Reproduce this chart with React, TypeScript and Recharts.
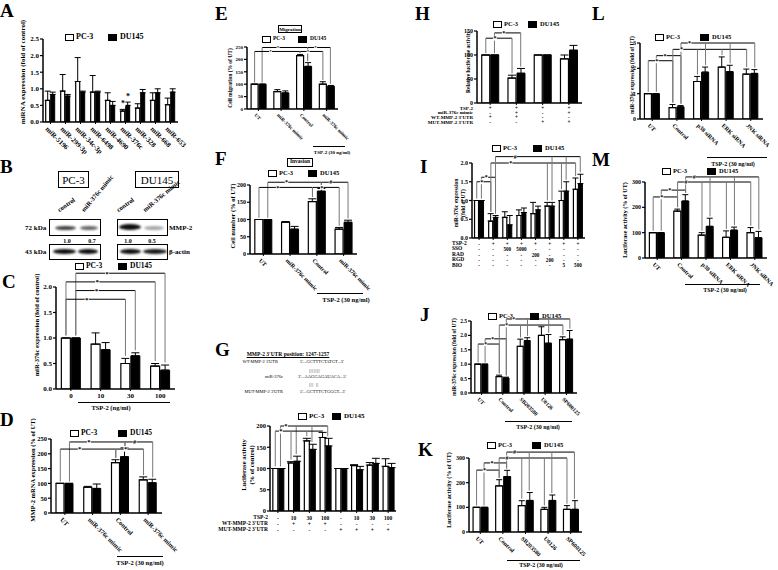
import React from "react";
import { BarChart, Bar, XAxis, YAxis, ErrorBar, ReferenceLine, ReferenceDot } from "recharts";

const FONT = "'Liberation Serif', 'Times New Roman', serif";

// ---- data ----
// A
const aNames = ["miR-5196", "miR-299-3p", "miR-34c-3p", "miR-6498", "miR-4690", "miR-376c", "miR-328", "miR-668", "miR-653"];
const aPC = [0.65, 0.93, 1.22, 0.9, 0.65, 0.33, 0.42, 0.65, 0.52];
const aPCErr = [0.28, 0.5, 0.72, 0.5, 0.23, 0.05, 0.13, 0.23, 0.2];
const aDU = [0.83, 0.78, 0.9, 0.9, 0.5, 0.5, 0.88, 0.88, 0.9];
const aDUErr = [0.07, 0.05, 0.03, 0.03, 0.12, 0.1, 0.1, 0.12, 0.1];
// B (blot densitometry)
const bPC = ["1.0", "0.7"];
const bDU = ["1.0", "0.5"];
// C
const cNames = ["0", "10", "30", "100"];
const cPC = [1.0, 0.88, 0.5, 0.45];
const cPCErr = [0, 0.22, 0.1, 0.05];
const cDU = [1.0, 0.77, 0.65, 0.37];
const cDUErr = [0, 0.14, 0.06, 0.1];
// D
const mimicNames = ["UT", "miR-376c mimic", "Control", "miR-376c mimic"];
const dPC = [100, 87, 170, 112];
const dPCErr = [0, 3, 10, 10];
const dDU = [100, 83, 190, 102];
const dDUErr = [0, 15, 30, 12];
// E
const ePC = [100, 70, 215, 100];
const ePCErr = [0, 8, 5, 10];
const eDU = [100, 65, 172, 92];
const eDUErr = [0, 8, 15, 3];
// F
const fPC = [100, 92, 152, 72];
const fPCErr = [0, 2, 8, 5];
const fDU = [100, 72, 182, 92];
const fDUErr = [0, 8, 8, 6];
// G
const gNames = ["g1", "g2", "g3", "g4", "g5", "g6", "g7", "g8"];
const gPC = [100, 113, 165, 173, 100, 107, 108, 105];
const gPCErr = [0, 3, 6, 12, 0, 2, 6, 18];
const gDU = [100, 117, 145, 153, 100, 97, 112, 102];
const gDUErr = [0, 12, 12, 18, 0, 8, 12, 10];
const gTSP = ["-", "10", "30", "100", "-", "10", "30", "100"];
const gWT = ["-", "+", "+", "+", "-", "-", "-", "-"];
const gMUT = ["-", "-", "-", "-", "+", "+", "+", "+"];
// H
const hNames = ["h1", "h2", "h3", "h4"];
const hPC = [100, 52, 100, 92];
const hPCErr = [0, 6, 0, 8];
const hDU = [100, 62, 100, 110];
const hDUErr = [0, 10, 0, 10];
const hTSP = ["+", "+", "+", "+"];
const hMimic = ["-", "+", "-", "+"];
const hWT = ["+", "+", "-", "-"];
const hMUT = ["-", "-", "+", "+"];
// I
const iNames = ["i1", "i2", "i3", "i4", "i5", "i6", "i7", "i8"];
const iPC = [1.0, 0.45, 0.55, 0.6, 0.65, 0.85, 1.0, 1.3];
const iPCErr = [0, 0.2, 0.15, 0.15, 0.3, 0.1, 0.25, 0.3];
const iDU = [1.0, 0.55, 0.35, 0.68, 0.75, 0.85, 1.25, 1.45];
const iDUErr = [0, 0.05, 0.25, 0.12, 0.1, 0.1, 0.25, 0.25];
const iTSP = ["-", "+", "+", "+", "+", "+", "+", "+"];
const iSSO = ["-", "-", "500", "5000", "-", "-", "-", "-"];
const iRAD = ["-", "-", "-", "-", "200", "-", "-", "-"];
const iRGD = ["-", "-", "-", "-", "-", "200", "-", "-"];
const iBIO = ["-", "-", "-", "-", "-", "-", "5", "500"];
// J
const inhNames = ["UT", "Control", "SB203580", "U0126", "SP600125"];
const jPC = [1.0, 0.57, 1.62, 2.0, 1.85];
const jPCErr = [0, 0.05, 0.25, 0.3, 0.1];
const jDU = [1.0, 0.52, 1.82, 1.73, 1.87];
const jDUErr = [0, 0.03, 0.1, 0.3, 0.3];
// K
const kPC = [100, 187, 107, 92, 92];
const kPCErr = [0, 25, 20, 8, 15];
const kDU = [100, 225, 128, 128, 92];
const kDUErr = [0, 25, 32, 22, 35];
// L
const siNames = ["UT", "Control", "p38 siRNA", "ERK siRNA", "JNK siRNA"];
const lPC = [1.0, 0.45, 1.48, 2.05, 1.77];
const lPCErr = [0, 0.12, 0.2, 0.4, 0.2];
const lDU = [1.0, 0.48, 1.85, 1.87, 1.8];
const lDUErr = [0, 0.05, 0.2, 0.25, 0.15];
// M
const mPC = [100, 185, 90, 82, 100];
const mPCErr = [0, 8, 10, 25, 20];
const mDU = [100, 225, 125, 110, 80];
const mDUErr = [0, 25, 32, 12, 25];

// significance brackets: bar ref = group index (+0.5 for DU145)
const cBr = [
  { a: 0.5, b: [3.5], y: 2.27, m: "*" },
  { a: 0, b: [3], y: 2.1, m: "*" },
  { a: 0.5, b: [2.5], y: 1.93, m: "*" },
  { a: 0, b: [2], y: 1.76, m: "*" },
];
const dBr = [
  { a: 0.5, b: [2.5], y: 240, m: "*" },
  { a: 0, b: [2], y: 216, m: "*" },
  { a: 2.5, b: [3.5], y: 240, m: "#" },
  { a: 2, b: [3], y: 216, m: "*" },
];
const eBr = [
  { a: 0.5, b: [2.5], y: 248, m: "*" },
  { a: 0, b: [2], y: 232, m: "*" },
  { a: 2.5, b: [3.5], y: 248, m: "*" },
  { a: 2, b: [3], y: 232, m: "*" },
];
const fBr = [
  { a: 0.5, b: [2.5], y: 208, m: "*" },
  { a: 0, b: [2], y: 193, m: "*" },
  { a: 2.5, b: [3.5], y: 208, m: "#" },
  { a: 2, b: [3], y: 193, m: "*" },
];
const gBr = [
  { a: 0.5, b: [1.5, 2.5, 3.5], y: 200, m: "*" },
  { a: 0, b: [1, 2, 3], y: 188, m: "*" },
];
const hBr = [
  { a: 0.5, b: [1.5], y: 146, m: "*" },
  { a: 0, b: [1], y: 135, m: "*" },
];
const iBr = [
  { a: 0, b: [1], y: 1.5, m: "*" },
  { a: 0.5, b: [1.5], y: 1.62, m: "*" },
  { a: 1, b: [5, 6, 7], y: 2.0, m: "*" },
  { a: 1.5, b: [5.5, 6.5, 7.5], y: 2.17, m: "#" },
];
const jBr = [
  { a: 0, b: [1], y: 1.7, m: "*" },
  { a: 0.5, b: [1.5], y: 1.88, m: "*" },
  { a: 1, b: [2, 3, 4], y: 2.36, m: "*" },
  { a: 1.5, b: [2.5, 3.5, 4.5], y: 2.57, m: "*" },
];
const kBr = [
  { a: 0, b: [1], y: 251, m: "*" },
  { a: 0.5, b: [1.5], y: 280, m: "*" },
  { a: 1, b: [2, 3, 4], y: 300, m: "#" },
  { a: 1.5, b: [2.5, 3.5, 4.5], y: 324, m: "#" },
];
const lBr = [
  { a: 0, b: [1], y: 2.3, m: "*" },
  { a: 0.5, b: [1.5], y: 2.5, m: "*" },
  { a: 1, b: [2, 3, 4], y: 2.75, m: "*" },
  { a: 1.5, b: [2.5, 3.5, 4.5], y: 3.0, m: "*" },
];
const mBr = [
  { a: 0, b: [1], y: 241, m: "*" },
  { a: 0.5, b: [1.5], y: 268, m: "*" },
  { a: 1, b: [2, 3, 4], y: 300, m: "#" },
  { a: 1.5, b: [2.5, 3.5, 4.5], y: 320, m: "#" },
];

const rows = (names: string[], pc: number[], pcErr: number[], du: number[], duErr: number[]) =>
  names.map((name, i) => ({ name, pc: pc[i], du: du[i], pcE: [0, pcErr[i]], duE: [0, duErr[i]] }));

const barX = (r: number) => Math.floor(r) + (r % 1 ? 0.665 : 0.335);
const barTop = (data: any[], r: number) => {
  const d = data[Math.floor(r)];
  return r % 1 ? d.du + d.duE[1] : d.pc + d.pcE[1];
};

function Mark({ cx, cy, m, fs }: any) {
  return (
    <g>
      <rect x={cx - fs * 0.3} y={cy - fs * 0.4} width={fs * 0.6} height={fs * 0.8} fill="#fff" />
      <text x={cx} y={cy + fs * 0.35} textAnchor="middle" fontSize={fs} fontWeight="bold" fontFamily={FONT}>
        {m}
      </text>
    </g>
  );
}

function Panel(p: any) {
  const { x0, x1, yTop, yBot, data, domain, ticks, fmt, kind, rowsTxt = [], rowOff = 7, rowStep = 6, fs = 7, brackets = [], stars = [], cap = 4 } = p;
  const YW = 30, MT = 30, MR = 6, XH = 50;
  const n = data.length;
  // the hidden index axis runs over [0, n-1] across the plot width
  const sx = (v: number) => (v * (n - 1)) / n;
  const pad = (domain[1] - domain[0]) * 0.025;
  const tick = (t: any) => {
    const idx = t.index ?? t.payload?.index ?? 0;
    if (kind === "angle")
      return (
        <text x={t.x - 2} y={t.y + 2} dy={fs * 0.7} transform={`rotate(45 ${t.x - 2} ${t.y + 2})`} textAnchor="start" fontSize={fs} fontWeight="bold" fontFamily={FONT} fill="#000">
          {t.payload.value}
        </text>
      );
    if (kind === "plain")
      return (
        <text x={t.x} y={t.y + fs} textAnchor="middle" fontSize={fs} fontWeight="bold" fontFamily={FONT} fill="#000">
          {t.payload.value}
        </text>
      );
    return (
      <g>
        {rowsTxt.map((r: string[], k: number) => (
          <text key={k} x={t.x} y={t.y + rowOff + k * rowStep} textAnchor="middle" fontSize={fs * 0.85} fontWeight="bold" fontFamily={FONT} fill="#000">
            {r[idx]}
          </text>
        ))}
      </g>
    );
  };
  const extra: any[] = [];
  brackets.forEach((br: any, k: number) => {
    const xa = barX(br.a);
    const xs = br.b.map(barX);
    const all = [xa, ...xs];
    extra.push(
      <ReferenceLine key={`h${k}`} xAxisId="n" segment={[{ x: sx(Math.min(...all)), y: br.y }, { x: sx(Math.max(...all)), y: br.y }]} stroke="#000" strokeWidth={1} ifOverflow="visible" />
    );
    [br.a, ...br.b].forEach((r: number, j: number) =>
      extra.push(
        <ReferenceLine key={`v${k}-${j}`} xAxisId="n" segment={[{ x: sx(barX(r)), y: br.y }, { x: sx(barX(r)), y: barTop(data, r) + pad }]} stroke="#777" strokeWidth={1} ifOverflow="visible" />
      )
    );
    extra.push(
      <ReferenceDot key={`m${k}`} xAxisId="n" x={sx(xa + (xs[0] - xa) * 0.35)} y={br.y} r={0} ifOverflow="visible" shape={(q: any) => <Mark cx={q.cx} cy={q.cy} m={br.m} fs={fs} />} />
    );
  });
  stars.forEach((r: number, k: number) =>
    extra.push(
      <ReferenceDot key={`s${k}`} xAxisId="n" x={sx(barX(r))} y={barTop(data, r) + pad * 3} r={0} ifOverflow="visible" shape={(q: any) => <Mark cx={q.cx} cy={q.cy} m="*" fs={fs + 1} />} />
    )
  );
  return (
    <div style={{ position: "absolute", left: x0 - YW, top: yTop - MT }}>
      <BarChart width={x1 - x0 + YW + MR} height={yBot - yTop + MT + XH} data={data} margin={{ top: MT, right: MR, left: 0, bottom: 0 }} barCategoryGap="18%" barGap={1}>
        <XAxis dataKey="name" height={XH} interval={0} tick={tick} tickSize={2} tickMargin={0} tickLine={{ stroke: "#000" }} axisLine={{ stroke: "#000", strokeWidth: 1.5 }} />
        <XAxis xAxisId="n" type="number" domain={[0, n - 1]} allowDataOverflow hide />
        <YAxis
          width={YW}
          domain={domain}
          ticks={ticks}
          allowDataOverflow
          tickFormatter={fmt}
          tickSize={3}
          tickMargin={1}
          tick={{ fontSize: fs, fontWeight: "bold", fill: "#000", fontFamily: FONT }}
          tickLine={{ stroke: "#000", strokeWidth: 1.2 }}
          axisLine={{ stroke: "#000", strokeWidth: 1.5 }}
        />
        <Bar dataKey="pc" fill="#fff" stroke="#000" strokeWidth={1.2} isAnimationActive={false}>
          <ErrorBar dataKey="pcE" width={cap} stroke="#000" strokeWidth={1} direction="y" />
        </Bar>
        <Bar dataKey="du" fill="#000" stroke="#000" strokeWidth={1} isAnimationActive={false}>
          <ErrorBar dataKey="duE" width={cap} stroke="#000" strokeWidth={1} direction="y" />
        </Bar>
        {extra}
      </BarChart>
    </div>
  );
}

function Txt({ x, y, children, fs = 7, align = "left", bold = true, style = {} }: any) {
  const s: any = { position: "absolute", top: y - fs / 2, fontSize: fs, lineHeight: `${fs}px`, fontWeight: bold ? "bold" : "normal", whiteSpace: "nowrap", ...style };
  if (align === "left") s.left = x;
  else if (align === "right") s.right = 778 - x;
  else {
    s.left = x;
    s.transform = "translateX(-50%)";
  }
  return <div style={s}>{children}</div>;
}

function VLabel({ x, y, lines, fs = 7 }: any) {
  return (
    <div style={{ position: "absolute", left: x, top: y, transform: "translate(-50%,-50%) rotate(-90deg)", fontSize: fs, lineHeight: `${fs + 1.5}px`, fontWeight: "bold", whiteSpace: "nowrap", textAlign: "center" }}>
      {lines.map((l: string, i: number) => (
        <div key={i}>{l}</div>
      ))}
    </div>
  );
}

function Key({ x, x2, y, fs = 8 }: any) {
  return (
    <>
      <div style={{ position: "absolute", left: x, top: y - 3, width: 7, height: 5, border: "1px solid #000", background: "#fff" }} />
      <Txt x={x + 11} y={y} fs={fs}>PC-3</Txt>
      <div style={{ position: "absolute", left: x2, top: y - 3, width: 9, height: 7, background: "#000" }} />
      <Txt x={x2 + 12} y={y} fs={fs}>DU145</Txt>
    </>
  );
}

function Letter({ x, y, c }: any) {
  return <div style={{ position: "absolute", left: x, top: y - 3.5, fontSize: 19, lineHeight: "19px", fontWeight: "bold" }}>{c}</div>;
}

function Under({ xa, xb, y, tx, ty, fs = 7, text = "TSP-2 (30 ng/ml)" }: any) {
  return (
    <>
      <div style={{ position: "absolute", left: xa, top: y, width: xb - xa, height: 1, background: "#000" }} />
      <Txt x={tx} y={ty} fs={fs} align="center">{text}</Txt>
    </>
  );
}

function Band({ x, y, w, h, a }: any) {
  return <div style={{ position: "absolute", left: x, top: y, width: w, height: h, background: `rgba(0,0,0,${a})`, borderRadius: "50%", filter: "blur(0.8px)" }} />;
}

function Box({ x, y, w, h, bg = "#fff" }: any) {
  return <div style={{ position: "absolute", left: x, top: y, width: w, height: h, border: "1px solid #000", background: bg, boxSizing: "border-box" }} />;
}

function Lane({ x, y, text, deg = -40 }: any) {
  return (
    <div style={{ position: "absolute", left: x, top: y, fontSize: 6.5, lineHeight: "7px", fontWeight: "bold", whiteSpace: "nowrap", transform: `rotate(${deg}deg)`, transformOrigin: "left bottom" }}>{text}</div>
  );
}

const f1 = (v: number) => v.toFixed(1);

export default function App() {
  return (
    <div style={{ position: "absolute", left: 0, top: 0, width: 778, height: 570, background: "#fff", fontFamily: FONT, color: "#000", overflow: "hidden" }}>
      <style>{`.recharts-surface{overflow:visible}`}</style>

      {/* A */}
      <Letter x={0} y={4} c="A" />
      <Key x={65} x2={108} y={37} fs={8} />
      <VLabel x={23} y={72} lines={["miRNA expression (fold of control)"]} fs={7} />
      <Panel x0={43} x1={178} yTop={39} yBot={122} data={rows(aNames, aPC, aPCErr, aDU, aDUErr)} domain={[0, 2.5]} ticks={[0, 0.5, 1, 1.5, 2, 2.5]} fmt={f1} kind="angle" fs={7} cap={3} stars={[5, 5.5]} />

      {/* B */}
      <Letter x={0} y={160} c="B" />
      <Box x={58} y={171} w={31} h={17} />
      <Txt x={73.5} y={180} fs={11} align="center" bold={false}>PC-3</Txt>
      <Box x={135} y={171} w={44} h={17} />
      <Txt x={157} y={180} fs={11} align="center" bold={false}>DU145</Txt>
      <Lane x={60} y={206} text="control" deg={-35} />
      <Lane x={85} y={206} text="miR-376c mimic" deg={-50} />
      <Lane x={119} y={206} text="control" deg={-35} />
      <Lane x={146} y={206} text="miR-376c mimic" deg={-40} />
      <Txt x={25} y={228} fs={7}>72 kDa</Txt>
      <Txt x={25} y={252} fs={7}>43 kDa</Txt>
      <Box x={49} y={219} w={52} h={17} />
      <Box x={117} y={219} w={51} h={17} />
      <Box x={49} y={244} w={52} h={16} />
      <Box x={117} y={244} w={51} h={16} />
      <Band x={55} y={226} w={21} h={4} a={0.75} />
      <Band x={80} y={226} w={18} h={4} a={0.6} />
      <Band x={119} y={224} w={22} h={6} a={0.95} />
      <Band x={144} y={226} w={20} h={4} a={0.35} />
      <Band x={53} y={249} w={23} h={5} a={0.95} />
      <Band x={78} y={249} w={20} h={5} a={0.95} />
      <Band x={120} y={249} w={21} h={5} a={0.95} />
      <Band x={143} y={249} w={24} h={5} a={0.9} />
      <Txt x={67} y={241} fs={6} align="center">{bPC[0]}</Txt>
      <Txt x={92} y={241} fs={6} align="center">{bPC[1]}</Txt>
      <Txt x={128} y={241} fs={6} align="center">{bDU[0]}</Txt>
      <Txt x={152} y={241} fs={6} align="center">{bDU[1]}</Txt>
      <Txt x={169} y={228} fs={7}>MMP-2</Txt>
      <Txt x={169} y={252} fs={7}>β-actin</Txt>

      {/* C */}
      <Letter x={2} y={275} c="C" />
      <Key x={75} x2={118} y={266} fs={7.5} />
      <VLabel x={37} y={325} lines={["miR-376c expression (fold of control)"]} fs={6.5} />
      <Panel x0={56} x1={175} yTop={287} yBot={389} data={rows(cNames, cPC, cPCErr, cDU, cDUErr)} domain={[0, 2]} ticks={[0, 0.5, 1, 1.5, 2]} fmt={f1} kind="plain" fs={7} brackets={cBr} />
      <Under xa={78} xb={170} y={402} tx={111} ty={408} fs={6.5} text="TSP-2 (ng/ml)" />

      {/* D */}
      <Letter x={0} y={413} c="D" />
      <Key x={70} x2={118} y={433} fs={7.5} />
      <VLabel x={33} y={470} lines={["MMP-2 mRNA expression (% of UT)"]} fs={6.5} />
      <Panel x0={51} x1={162} yTop={439} yBot={513} data={rows(mimicNames, dPC, dPCErr, dDU, dDUErr)} domain={[0, 250]} ticks={[0, 50, 100, 150, 200, 250]} kind="angle" fs={6.5} brackets={dBr} />
      <Under xa={117} xb={163} y={556} tx={140} ty={563} fs={6.5} />

      {/* E */}
      <Letter x={215} y={7} c="E" />
      <div style={{ position: "absolute", left: 278, top: 25, width: 24, height: 8, border: "1px solid #000", boxSizing: "border-box" }} />
      <Txt x={290} y={29} fs={5} align="center">Migration</Txt>
      <Key x={262} x2={298} y={39} fs={5.5} />
      <VLabel x={230} y={78} lines={["Cell migration (% of UT)"]} fs={5.5} />
      <Panel x0={247} x1={338} yTop={47} yBot={109} data={rows(mimicNames, ePC, ePCErr, eDU, eDUErr)} domain={[0, 250]} ticks={[0, 50, 100, 150, 200, 250]} kind="angle" fs={5} cap={3} brackets={eBr} />
      <Under xa={313} xb={345} y={146} tx={332} ty={152} fs={5} />

      {/* F */}
      <Letter x={215} y={152} c="F" />
      <div style={{ position: "absolute", left: 287, top: 158, width: 26, height: 9, border: "1px solid #000", boxSizing: "border-box" }} />
      <Txt x={300} y={162} fs={5.5} align="center">Invasion</Txt>
      <Key x={268} x2={308} y={173} fs={6.5} />
      <VLabel x={233} y={216} lines={["Cell number (% of UT)"]} fs={6.5} />
      <Panel x0={250} x1={357} yTop={185} yBot={254} data={rows(mimicNames, fPC, fPCErr, fDU, fDUErr)} domain={[0, 200]} ticks={[0, 50, 100, 150, 200]} kind="angle" fs={6} brackets={fBr} />
      <Under xa={317} xb={363} y={293} tx={346} ty={300} fs={6.5} />

      {/* G */}
      <Letter x={215} y={343} c="G" />
      <Txt x={288} y={355} fs={5.5} align="center" style={{ textDecoration: "underline" }}>MMP-2 3'UTR position: 1247-1257</Txt>
      <Txt x={278} y={362} fs={4.5} align="right" bold={false}>WT-MMP-2 3'UTR</Txt>
      <Txt x={300} y={362} fs={4.5} bold={false}>5'...GCTTTCTATGT...3'</Txt>
      <Txt x={309} y={370} fs={5} bold={false} style={{ letterSpacing: 0.6 }}>|||||||</Txt>
      <Txt x={283} y={377} fs={4.5} align="right" bold={false}>miR-376c</Txt>
      <Txt x={298} y={377} fs={4.5} bold={false}>3'...AAGGAGAUACA...5'</Txt>
      <Txt x={309} y={384} fs={5} bold={false} style={{ letterSpacing: 0.6 }}>|||  ||</Txt>
      <Txt x={283} y={392} fs={4.5} align="right" bold={false}>MUT-MMP-2 3'UTR</Txt>
      <Txt x={300} y={392} fs={4.5} bold={false}>5'...GCTTTCTGGGT...3'</Txt>
      <Key x={298} x2={332} y={416} fs={7} />
      <VLabel x={248} y={465} lines={["Luciferase activity", "(% of control)"]} fs={6.5} />
      <Panel x0={270} x1={396} yTop={426} yBot={511} data={rows(gNames, gPC, gPCErr, gDU, gDUErr)} domain={[0, 200]} ticks={[0, 50, 100, 150, 200]} kind="rows" rowsTxt={[gTSP, gWT, gMUT]} rowOff={7} rowStep={6} fs={6.5} brackets={gBr} />
      <Txt x={268} y={518} fs={5.5} align="right">TSP-2</Txt>
      <Txt x={268} y={524} fs={5.5} align="right">WT-MMP-2 3'UTR</Txt>
      <Txt x={268} y={530} fs={5.5} align="right">MUT-MMP-2 3'UTR</Txt>

      {/* H */}
      <Letter x={415} y={7} c="H" />
      <Key x={493} x2={528} y={24} fs={6.5} />
      <VLabel x={468} y={62} lines={["Relative luciferase activity"]} fs={5.5} />
      <Panel x0={477} x1={582} yTop={31} yBot={103} data={rows(hNames, hPC, hPCErr, hDU, hDUErr)} domain={[0, 150]} ticks={[0, 50, 100, 150]} kind="rows" rowsTxt={[hTSP, hMimic, hWT, hMUT]} rowOff={5} rowStep={4.7} fs={6} brackets={hBr} />
      <Txt x={473} y={108} fs={5} align="right">TSP-2</Txt>
      <Txt x={473} y={112.5} fs={5} align="right">miR-376c mimic</Txt>
      <Txt x={473} y={117} fs={5} align="right">WT-MMP-2 3'UTR</Txt>
      <Txt x={473} y={122} fs={5} align="right">MUT-MMP-2 3'UTR</Txt>

      {/* I */}
      <Letter x={420} y={160} c="I" />
      <Key x={492} x2={533} y={148} fs={6.5} />
      <VLabel x={460} y={203} lines={["miR-376c expression", "(fold of UT)"]} fs={5.5} />
      <Panel x0={472} x1={585} yTop={163} yBot={238} data={rows(iNames, iPC, iPCErr, iDU, iDUErr)} domain={[0, 2]} ticks={[0, 0.5, 1, 1.5, 2]} fmt={f1} kind="rows" rowsTxt={[iTSP, iSSO, iRAD, iRGD, iBIO]} rowOff={6} rowStep={5.3} fs={6} cap={3} brackets={iBr} />
      <Txt x={452} y={244} fs={5.5}>TSP-2</Txt>
      <Txt x={452} y={249} fs={5.5}>SSO</Txt>
      <Txt x={452} y={254.5} fs={5.5}>RAD</Txt>
      <Txt x={452} y={260} fs={5.5}>RGD</Txt>
      <Txt x={452} y={265.5} fs={5.5}>BIO</Txt>

      {/* J */}
      <Letter x={420} y={308} c="J" />
      <Key x={488} x2={530} y={316} fs={6.5} />
      <VLabel x={454} y={357} lines={["miR-376c expression (fold of UT)"]} fs={5.5} />
      <Panel x0={471} x1={577} yTop={321} yBot={393} data={rows(inhNames, jPC, jPCErr, jDU, jDUErr)} domain={[0, 2.5]} ticks={[0, 0.5, 1, 1.5, 2, 2.5]} fmt={f1} kind="angle" fs={5.5} cap={3} brackets={jBr} />
      <Under xa={505} xb={572} y={421} tx={538} ty={427} fs={6} />

      {/* K */}
      <Letter x={418} y={443} c="K" />
      <Key x={487} x2={532} y={445} fs={6.5} />
      <VLabel x={450} y={490} lines={["Luciferase activity (% of UT)"]} fs={6} />
      <Panel x0={469} x1={582} yTop={458} yBot={532} data={rows(inhNames, kPC, kPCErr, kDU, kDUErr)} domain={[0, 300]} ticks={[0, 100, 200, 300]} kind="angle" fs={6} cap={3} brackets={kBr} />
      <Under xa={507} xb={580} y={560} tx={541} ty={565} fs={6} />

      {/* L */}
      <Letter x={592} y={7} c="L" />
      <Key x={655} x2={700} y={37} fs={6.5} />
      <VLabel x={632} y={75} lines={["miR-376c expression (fold of UT)"]} fs={5.5} />
      <Panel x0={640} x1={763} yTop={43} yBot={119} data={rows(siNames, lPC, lPCErr, lDU, lDUErr)} domain={[0, 3]} ticks={[0, 1, 2, 3]} kind="angle" fs={6} cap={3} brackets={lBr} />
      <Under xa={707} xb={767} y={157} tx={733} ty={164} fs={6} />

      {/* M */}
      <Letter x={592} y={153} c="M" />
      <Key x={662} x2={707} y={171} fs={6.5} />
      <VLabel x={626} y={220} lines={["Luciferase activity (% of UT)"]} fs={6} />
      <Panel x0={645} x1={767} yTop={182} yBot={258} data={rows(siNames, mPC, mPCErr, mDU, mDUErr)} domain={[0, 300]} ticks={[0, 100, 200, 300]} kind="angle" fs={6} cap={3} brackets={mBr} />
      <Under xa={685} xb={760} y={284} tx={725} ty={290} fs={6} />
    </div>
  );
}
